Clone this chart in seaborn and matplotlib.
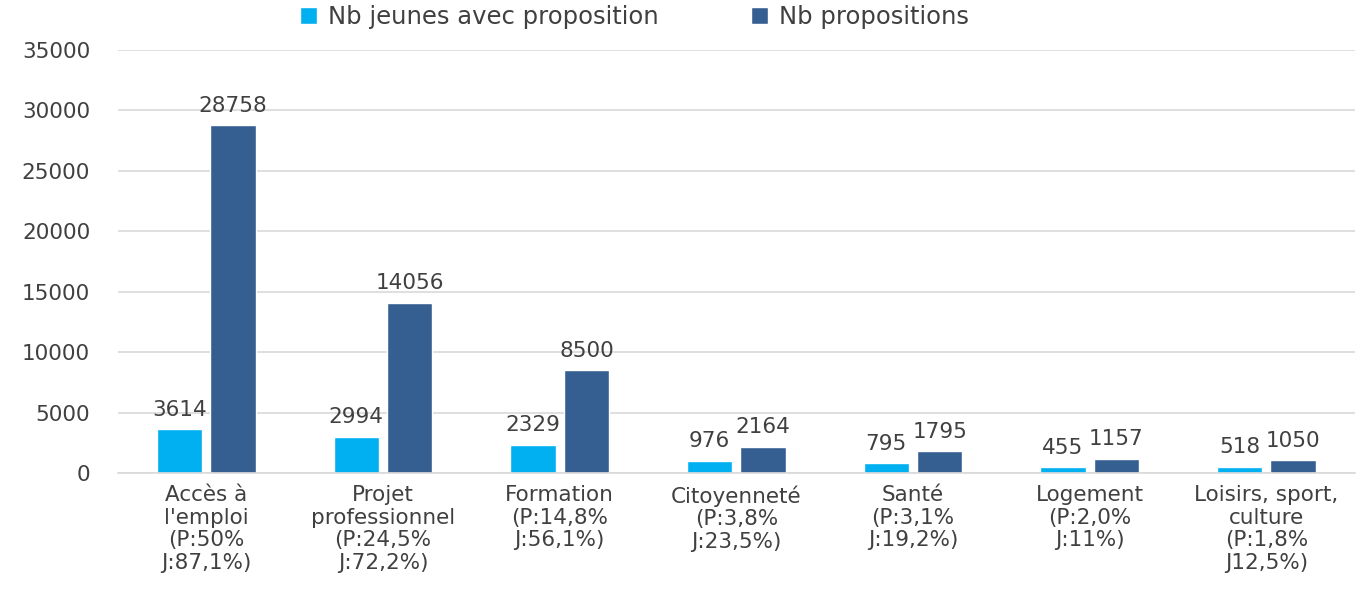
import pandas as pd
import matplotlib
matplotlib.use("Agg")
import matplotlib.pyplot as plt
import seaborn as sns

categories = [
    "Accès à\nl'emploi\n(P:50%\nJ:87,1%)",
    "Projet\nprofessionnel\n(P:24,5%\nJ:72,2%)",
    "Formation\n(P:14,8%\nJ:56,1%)",
    "Citoyenneté\n(P:3,8%\nJ:23,5%)",
    "Santé\n(P:3,1%\nJ:19,2%)",
    "Logement\n(P:2,0%\nJ:11%)",
    "Loisirs, sport,\nculture\n(P:1,8%\nJ12,5%)",
]
nb_jeunes = [3614, 2994, 2329, 976, 795, 455, 518]
nb_propositions = [28758, 14056, 8500, 2164, 1795, 1157, 1050]
series_names = ["Nb jeunes avec proposition", "Nb propositions"]
colors = ["#00B0F0", "#365F91"]

df = pd.DataFrame({
    "categorie": categories * 2,
    "valeur": nb_jeunes + nb_propositions,
    "serie": [series_names[0]] * len(categories) + [series_names[1]] * len(categories),
})

sns.set_style("white")
plt.rcParams["font.family"] = ["DejaVu Sans"]
text_color = "#404040"

fig = plt.figure(figsize=(13.67, 5.91), dpi=100)
ax = fig.add_axes([0.0863, 0.1997, 0.9047, 0.7157])

sns.barplot(data=df, x="categorie", y="valeur", hue="serie",
            palette=colors, saturation=1, width=0.605, gap=0.15,
            ax=ax, legend=True)

for cont in ax.containers:
    ax.bar_label(cont, padding=7, fontsize=15.5, color=text_color)

ax.set_ylim(0, 35000)
ax.set_yticks(range(0, 35001, 5000))
ax.set_xlim(-0.5, len(categories) - 0.5)
ax.yaxis.grid(True, color="#D9D9D9", linewidth=1.2)
ax.set_axisbelow(True)
ax.set_xlabel("")
ax.set_ylabel("")
ax.tick_params(axis="y", length=0, labelsize=15.5, labelcolor=text_color, pad=20)
ax.tick_params(axis="x", length=0, labelsize=15.5, labelcolor=text_color, pad=9)
for lbl in ax.get_xticklabels():
    lbl.set_linespacing(1.15)
for s in ["left", "right", "top"]:
    ax.spines[s].set_visible(False)
ax.spines["bottom"].set_color("#D9D9D9")
ax.spines["bottom"].set_linewidth(1.2)

ax.legend(loc="center", bbox_to_anchor=(0.418, 1.077), ncol=2, frameon=False,
          fontsize=17.5, labelcolor=text_color, handlelength=0.7, handleheight=0.7,
          columnspacing=3.8, handletextpad=0.45)

fig.savefig("out.png", dpi=100)
